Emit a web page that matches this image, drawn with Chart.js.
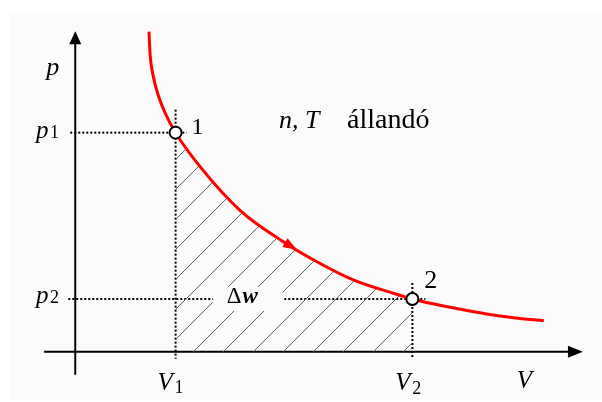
<!DOCTYPE html>
<html>
<head>
<meta charset="utf-8">
<script src="https://cdn.jsdelivr.net/npm/chart.js@4/dist/chart.umd.min.js"></script>
<style>
  html, body { margin: 0; padding: 0; background: #fff; }
  canvas { display: block; }
</style>
</head>
<body>
<canvas id="isoChart" width="602" height="402"></canvas>
<script>
// isotherm p(V)
const volume =   [0.735, 0.745, 0.778, 0.828, 0.894, 1.0, 1.25, 1.65, 2.05, 2.4, 2.77, 3.17, 3.36, 3.54, 3.84, 4.1, 4.37, 4.67];
const pressure = [3.185, 2.975, 2.74, 2.55, 2.38, 2.18, 1.835, 1.40, 1.11, 0.90, 0.715, 0.582, 0.525, 0.482, 0.422, 0.376, 0.339, 0.309];

// the two states
const stateV = [1.0, 3.36];
const stateP = [2.18, 0.525];
const stateNames = ['1', '2'];

const serif = '"Liberation Serif", "Times New Roman", serif';
const paper = '#fafbfa';

const curvePts = volume.map((v, i) => ({ x: v, y: pressure[i] }));
const workPts = curvePts.filter(pt => pt.x >= stateV[0] && pt.x <= stateV[1]);
const statePts = stateV.map((v, i) => ({ x: v, y: stateP[i] }));

// diagonal hatch for the work area
function hatchPattern() {
  const s = 30;
  const c = document.createElement('canvas');
  c.width = s; c.height = s;
  const g = c.getContext('2d');
  g.strokeStyle = '#606060';
  g.lineWidth = 1;
  g.beginPath();
  g.moveTo(-1, 6); g.lineTo(6, -1);
  g.moveTo(4, 31); g.lineTo(31, 4);
  g.stroke();
  return g.createPattern(c, 'repeat');
}

function dotted(ctx, x1, y1, x2, y2) {
  ctx.save();
  ctx.strokeStyle = '#000';
  ctx.lineWidth = 2;
  ctx.setLineDash([2, 2]);
  ctx.beginPath();
  ctx.moveTo(x1, y1);
  ctx.lineTo(x2, y2);
  ctx.stroke();
  ctx.restore();
}

function text(ctx, s, x, y, size, style) {
  ctx.font = (style || '') + ' ' + size + 'px ' + serif;
  ctx.fillStyle = '#000';
  ctx.textAlign = 'left';
  ctx.textBaseline = 'alphabetic';
  ctx.fillText(s, x, y);
  return ctx.measureText(s).width;
}

// italic letter with upright subscript
function subLabel(ctx, main, sub, x, y, subDx, subDy) {
  text(ctx, main, x, y, 25, 'italic');
  text(ctx, sub, x + subDx, y + subDy, 18);
}

function arrowHead(ctx, tipX, tipY, ang, len, half, color) {
  ctx.save();
  ctx.translate(tipX, tipY);
  ctx.rotate(ang);
  ctx.fillStyle = color;
  ctx.beginPath();
  ctx.moveTo(0, 0);
  ctx.lineTo(-len, -half);
  ctx.lineTo(-len, half);
  ctx.closePath();
  ctx.fill();
  ctx.restore();
}

// linear lookup on the read curve
function pAt(v) {
  for (let i = 1; i < volume.length; i++) {
    if (v <= volume[i]) {
      const t = (v - volume[i - 1]) / (volume[i] - volume[i - 1]);
      return pressure[i - 1] + t * (pressure[i] - pressure[i - 1]);
    }
  }
  return pressure[pressure.length - 1];
}

const diagram = {
  id: 'diagram',
  beforeDraw(chart) {
    const ctx = chart.ctx;
    ctx.save();
    ctx.fillStyle = '#fff';
    ctx.fillRect(0, 0, chart.width, chart.height);
    ctx.fillStyle = paper;
    ctx.fillRect(10, 13, chart.width - 10, chart.height - 15);
    ctx.restore();
  },
  beforeDatasetsDraw(chart) {
    const ctx = chart.ctx;
    const x = chart.scales.x, y = chart.scales.y;
    const x0 = x.getPixelForValue(0), y0 = y.getPixelForValue(0);

    // axes with arrows
    ctx.save();
    ctx.strokeStyle = '#000';
    ctx.lineWidth = 2;
    ctx.beginPath();
    ctx.moveTo(x.getPixelForValue(-0.31), y0);
    ctx.lineTo(x.getPixelForValue(4.95), y0);
    ctx.moveTo(x0, y.getPixelForValue(-0.23));
    ctx.lineTo(x0, y.getPixelForValue(3.08));
    ctx.stroke();
    ctx.restore();
    arrowHead(ctx, x.getPixelForValue(5.06), y0, 0, 15, 6, '#000');
    arrowHead(ctx, x0, y.getPixelForValue(3.19), -Math.PI / 2, 13, 6, '#000');

    // guide lines to the states
    const v1 = x.getPixelForValue(stateV[0]), p1 = y.getPixelForValue(stateP[0]);
    const v2 = x.getPixelForValue(stateV[1]), p2 = y.getPixelForValue(stateP[1]);
    dotted(ctx, x0 - 5, p1, v1 + 11, p1);
    dotted(ctx, v1, p1 - 23, v1, y0 + 7);
    dotted(ctx, x0 - 7, p2, v2 + 13, p2);
    dotted(ctx, v2, p2 - 16, v2, y0 + 7);
  },
  afterDatasetsDraw(chart) {
    const ctx = chart.ctx;
    const x = chart.scales.x, y = chart.scales.y;
    const y0 = y.getPixelForValue(0);
    const v1 = x.getPixelForValue(stateV[0]), p1 = y.getPixelForValue(stateP[0]);
    const v2 = x.getPixelForValue(stateV[1]), p2 = y.getPixelForValue(stateP[1]);

    // direction arrow on the isotherm
    const tipV = 2.21, backV = 2.08;
    const tx = x.getPixelForValue(tipV), ty = y.getPixelForValue(pAt(tipV));
    const bx = x.getPixelForValue(backV), by = y.getPixelForValue(pAt(backV));
    arrowHead(ctx, tx, ty, Math.atan2(ty - by, tx - bx), 14, 5, '#ff0000');

    // work label, cut out of the hatching
    const wx = x.getPixelForValue(1.69);
    ctx.save();
    ctx.fillStyle = paper;
    ctx.fillRect(wx - 32, p2 - 12, 70, 24);
    ctx.restore();
    const dw = text(ctx, '\u0394', wx - 18, p2 + 4, 23);
    text(ctx, 'w', wx - 18 + dw + 1, p2 + 4, 23, 'italic bold');

    // axis and state labels
    text(ctx, 'p', x.getPixelForValue(-0.29), y.getPixelForValue(2.75), 26, 'italic');
    text(ctx, 'V', x.getPixelForValue(4.4), y0 + 36, 25, 'italic');
    subLabel(ctx, 'p', '1', 36, p1 + 5, 14, 0);
    subLabel(ctx, 'p', '2', 36, p2 + 4, 14, 0);
    subLabel(ctx, 'V', '1', v1 - 18, y0 + 38, 17, 3);
    subLabel(ctx, 'V', '2', v2 - 17, y0 + 38, 17, 4);
    text(ctx, stateNames[0], v1 + 16, p1 + 1, 24);
    text(ctx, stateNames[1], v2 + 12, p2 - 11, 26);

    text(ctx, 'n, T', 279, 128, 26, 'italic');
    text(ctx, '\u00e1lland\u00f3', 347, 128, 28);
  }
};

new Chart(document.getElementById('isoChart'), {
  type: 'scatter',
  data: {
    datasets: [
      {
        label: 'states',
        data: statePts,
        order: 0,
        pointRadius: 6,
        pointHoverRadius: 6,
        pointBackgroundColor: '#fff',
        pointBorderColor: '#000',
        pointBorderWidth: 2,
        showLine: false
      },
      {
        label: 'isotherm',
        data: curvePts,
        order: 1,
        showLine: true,
        borderColor: '#ff0000',
        borderWidth: 3,
        pointRadius: 0,
        cubicInterpolationMode: 'monotone',
        fill: false
      },
      {
        label: 'work',
        data: workPts,
        order: 2,
        showLine: true,
        borderWidth: 0,
        borderColor: 'rgba(0,0,0,0)',
        pointRadius: 0,
        cubicInterpolationMode: 'monotone',
        fill: 'origin',
        backgroundColor: hatchPattern()
      }
    ]
  },
  options: {
    responsive: false,
    animation: false,
    layout: { padding: 0, autoPadding: false },
    plugins: {
      legend: { display: false },
      tooltip: { enabled: false }
    },
    scales: {
      x: { type: 'linear', min: -0.75, max: 5.25, display: false },
      y: { type: 'linear', min: -0.5, max: 3.5, display: false }
    }
  },
  plugins: [diagram]
});
</script>
</body>
</html>
